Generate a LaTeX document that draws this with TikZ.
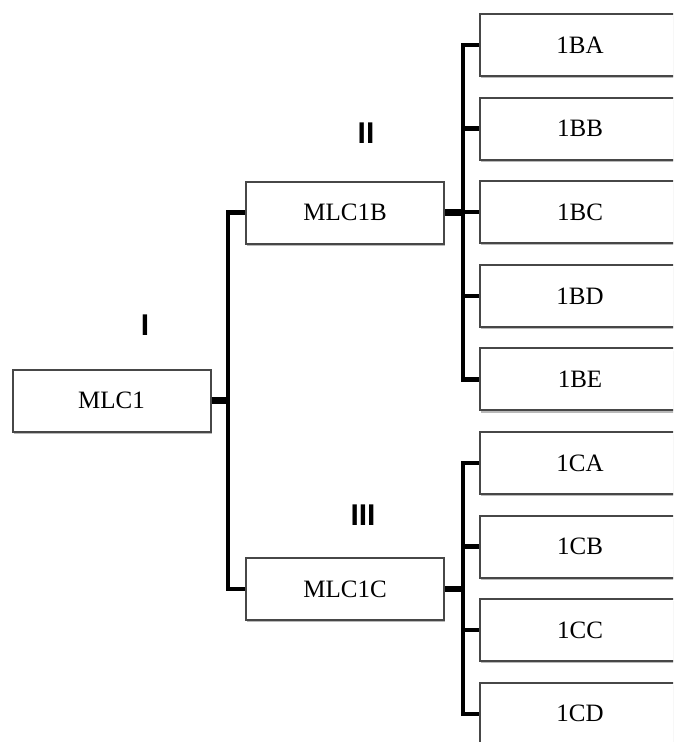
\documentclass[tikz,border=0pt]{standalone}
\usepackage{fontspec}
\setmainfont{Liberation Serif}
\newfontfamily\labelfont{Liberation Sans}
\usetikzlibrary{shadows,calc}

\tikzset{
  box/.style={draw=black!72, line width=2pt, fill=white, rectangle,
    minimum width=198pt, minimum height=62pt, inner sep=0pt,
    font=\fontsize{25}{30}\selectfont,
    drop shadow={shadow xshift=1.2pt, shadow yshift=-2.2pt, opacity=0.5, fill=black!55}},
  level/.style={font=\labelfont\bfseries\fontsize{30}{36}\selectfont, inner sep=0pt},
  trunk/.style={line width=4.5pt, line join=miter, draw=black},
  parentstub/.style={line width=6.5pt, draw=black},
}

\begin{document}
\begin{tikzpicture}[x=1pt, y=-1pt]
  \useasboundingbox (0,0) rectangle (673,742);
  \clip (0,0) rectangle (673,742);

  % root and second level
  \node[box] (root) at (111.5,400.5) {MLC1};
  \node[box] (mB) at (345,212.5) {MLC1B};
  \node[box] (mC) at (345,589) {MLC1C};

  % leaves of MLC1B
  \node[box, minimum width=200pt] (bA) at (580,45)    {1BA};
  \node[box, minimum width=200pt] (bB) at (580,128.6) {1BB};
  \node[box, minimum width=200pt] (bC) at (580,212.2) {1BC};
  \node[box, minimum width=200pt] (bD) at (580,295.8) {1BD};
  \node[box, minimum width=200pt] (bE) at (580,379.4) {1BE};

  % leaves of MLC1C
  \node[box, minimum width=200pt] (cA) at (580,463)   {1CA};
  \node[box, minimum width=200pt] (cB) at (580,546.6) {1CB};
  \node[box, minimum width=200pt] (cC) at (580,630.2) {1CC};
  \node[box, minimum width=200pt] (cD) at (580,713.8) {1CD};

  % level marks
  \node[level] (lI)   at (145,325) {I};
  \node[level] (lII)  at (366,133) {II};
  \node[level] (lIII) at (363,515) {III};

  % trunk positions
  \coordinate (t1) at ($(mB.west)+(-17,0)$);
  \coordinate (tB) at ($(bA.west)+(-16,0)$);
  \coordinate (tC) at ($(cA.west)+(-16,0)$);

  % MLC1 -> MLC1B / MLC1C
  \draw[trunk] (mB.west) -- (t1) |- (mC.west);
  \draw[parentstub] (root.east) -- (root.east -| t1);

  % MLC1B -> 1BA..1BE
  \draw[trunk] (bA.west) -- (tB) |- (bE.west);
  \draw[trunk] (bB.west) -- (bB.west -| tB);
  \draw[trunk] (bC.west) -- (bC.west -| tB);
  \draw[trunk] (bD.west) -- (bD.west -| tB);
  \draw[parentstub] (mB.east) -- (mB.east -| tB);

  % MLC1C -> 1CA..1CD
  \draw[trunk] (cA.west) -- (tC) |- (cD.west);
  \draw[trunk] (cB.west) -- (cB.west -| tC);
  \draw[trunk] (cC.west) -- (cC.west -| tC);
  \draw[parentstub] (mC.east) -- (mC.east -| tC);
\end{tikzpicture}
\end{document}
